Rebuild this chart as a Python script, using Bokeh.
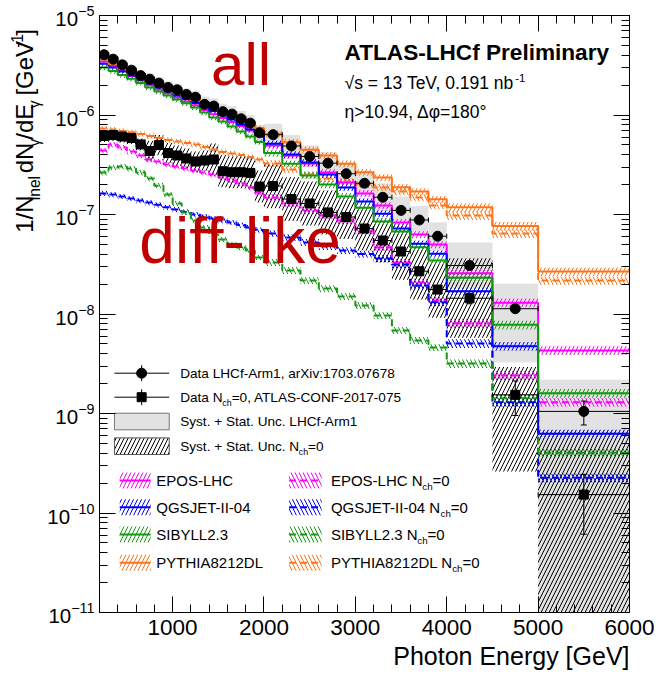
import numpy as np
from bokeh.plotting import figure
from bokeh.layouts import row
from bokeh.models import (Range1d, LogAxis, LinearAxis, FixedTicker, SingleIntervalTicker,
                          CustomJSTickFormatter, Label, Title)
from bokeh.embed import file_html
from bokeh.resources import INLINE

# ------------------------------------------------------------------ data
edges = [200, 300, 400, 500, 600, 700, 800, 900, 1000, 1100, 1200, 1300, 1400, 1500,
         1600, 1700, 1800, 1900, 2000, 2200, 2400, 2600, 2800, 3000, 3200, 3400, 3600,
         3800, 4000, 4500, 5000, 6000]

lhcf_all = [4.03e-6, 3.64e-6, 3.19e-6, 2.82e-6, 2.49e-6, 2.29e-6, 2.09e-6, 1.89e-6, 1.79e-6,
            1.61e-6, 1.51e-6, 1.28e-6, 1.23e-6, 1.08e-6, 1.02e-6, 9.16e-7, 8.28e-7, 6.62e-7,
            6.34e-7, 4.88e-7, 3.83e-7, 3.28e-7, 2.57e-7, 2.06e-7, 1.49e-7, 1.10e-7, 8.81e-8,
            6.05e-8, 3.07e-8, 1.13e-8, 1.05e-9]
lhcf_stat = [0.01, 0.01, 0.01, 0.01, 0.01, 0.01, 0.01, 0.01, 0.01, 0.01, 0.01, 0.01, 0.01,
             0.01, 0.01, 0.01, 0.01, 0.01, 0.01, 0.01, 0.02, 0.02, 0.02, 0.02, 0.02, 0.02,
             0.03, 0.03, 0.04, 0.06, 0.27]
lhcf_sys_up = [0.12, 0.12, 0.12, 0.12, 0.12, 0.15, 0.15, 0.15, 0.15, 0.15, 0.15, 0.20, 0.20,
               0.20, 0.20, 0.20, 0.20, 0.20, 0.29, 0.29, 0.29, 0.29, 0.29, 0.29, 0.38, 0.38,
               0.38, 0.38, 0.70, 0.78, 1.08]
lhcf_sys_down = [0.11, 0.11, 0.11, 0.11, 0.11, 0.13, 0.13, 0.13, 0.13, 0.13, 0.13, 0.17, 0.17,
                 0.17, 0.17, 0.17, 0.17, 0.17, 0.22, 0.22, 0.22, 0.22, 0.22, 0.22, 0.28, 0.28,
                 0.28, 0.28, 0.41, 0.71, 0.999]

nch0 = [6.15e-7, 6.29e-7, 6.08e-7, 5.87e-7, 5.06e-7, 4.35e-7, 4.99e-7, 4.15e-7, 3.92e-7,
        3.66e-7, 3.41e-7, 3.49e-7, 3.57e-7, 2.72e-7, 2.66e-7, 2.66e-7, 2.62e-7, 1.91e-7,
        1.93e-7, 1.43e-7, 1.29e-7, 1.05e-7, 9.44e-8, 7.23e-8, 5.48e-8, 4.25e-8, 2.69e-8,
        1.76e-8, 1.44e-8, 1.54e-9, 1.53e-10]
nch0_stat = [0.02, 0.02, 0.02, 0.02, 0.02, 0.02, 0.02, 0.02, 0.02, 0.02, 0.02, 0.02, 0.02,
             0.02, 0.02, 0.02, 0.02, 0.02, 0.04, 0.04, 0.04, 0.04, 0.04, 0.04, 0.08, 0.08,
             0.08, 0.08, 0.12, 0.38, 0.60]
nch0_sys_up = [0.15, 0.15, 0.15, 0.15, 0.15, 0.26, 0.26, 0.26, 0.26, 0.26, 0.26, 0.26, 0.45,
               0.45, 0.45, 0.45, 0.45, 0.45, 0.66, 0.66, 0.66, 0.66, 0.66, 0.66, 0.66, 0.91,
               0.91, 0.91, 1.52, 0.91, 3.40]
nch0_sys_down = [0.13, 0.13, 0.13, 0.13, 0.13, 0.21, 0.21, 0.21, 0.21, 0.21, 0.21, 0.21, 0.31,
                 0.31, 0.31, 0.31, 0.31, 0.31, 0.40, 0.40, 0.40, 0.40, 0.40, 0.40, 0.40, 0.48,
                 0.48, 0.48, 0.60, 0.83, 0.999]

epos_all = [3.45e-6, 3.11e-6, 2.77e-6, 2.47e-6, 2.22e-6, 2.00e-6, 1.80e-6, 1.64e-6, 1.50e-6,
            1.37e-6, 1.25e-6, 1.12e-6, 1.02e-6, 9.33e-7, 8.51e-7, 7.75e-7, 6.98e-7, 6.29e-7,
            4.94e-7, 3.92e-7, 3.26e-7, 2.64e-7, 2.10e-7, 1.63e-7, 1.23e-7, 8.32e-8, 6.29e-8,
            4.99e-8, 2.57e-8, 1.30e-8, 4.30e-9]
qgsjet_all = [3.27e-6, 3.00e-6, 2.74e-6, 2.49e-6, 2.28e-6, 2.07e-6, 1.89e-6, 1.72e-6, 1.57e-6,
              1.45e-6, 1.32e-6, 1.20e-6, 1.10e-6, 1.00e-6, 9.01e-7, 8.03e-7, 7.15e-7, 6.29e-7,
              5.14e-7, 4.01e-7, 3.33e-7, 2.52e-7, 1.87e-7, 1.35e-7, 1.02e-7, 7.23e-8, 5.08e-8,
              4.03e-8, 1.69e-8, 4.75e-9, 6.25e-10]
sibyll_all = [3.00e-6, 2.77e-6, 2.52e-6, 2.31e-6, 2.10e-6, 1.89e-6, 1.72e-6, 1.57e-6, 1.43e-6,
              1.31e-6, 1.19e-6, 1.06e-6, 9.44e-7, 8.61e-7, 7.66e-7, 6.82e-7, 6.08e-7, 5.35e-7,
              4.15e-7, 3.24e-7, 2.47e-7, 2.00e-7, 1.52e-7, 1.17e-7, 8.51e-8, 6.75e-8, 4.69e-8,
              3.45e-8, 2.31e-8, 7.78e-9, 1.60e-9]
pythia_all = [3.61e-6, 3.26e-6, 2.93e-6, 2.64e-6, 2.38e-6, 2.17e-6, 1.98e-6, 1.80e-6, 1.66e-6,
              1.52e-6, 1.40e-6, 1.29e-6, 1.18e-6, 1.07e-6, 9.89e-7, 9.01e-7, 8.31e-7, 7.40e-7,
              6.47e-7, 5.33e-7, 4.47e-7, 3.92e-7, 3.24e-7, 2.66e-7, 2.35e-7, 1.88e-7, 1.70e-7,
              1.42e-7, 1.18e-7, 7.66e-8, 2.67e-8]

epos_nch0 = [4.40e-7, 5.05e-7, 4.71e-7, 4.30e-7, 3.92e-7, 3.57e-7, 3.41e-7, 3.18e-7, 3.03e-7,
             2.90e-7, 2.77e-7, 2.64e-7, 2.52e-7, 2.35e-7, 2.20e-7, 2.05e-7, 1.87e-7, 1.66e-7,
             1.48e-7, 1.29e-7, 1.10e-7, 9.77e-8, 8.71e-8, 6.90e-8, 4.66e-8, 3.30e-8, 2.07e-8,
             1.37e-8, 8.03e-9, 2.41e-9, 1.30e-9]
qgsjet_nch0 = [1.63e-7, 1.59e-7, 1.52e-7, 1.45e-7, 1.38e-7, 1.32e-7, 1.25e-7, 1.18e-7, 1.12e-7,
               1.06e-7, 1.00e-7, 9.55e-8, 9.12e-8, 8.71e-8, 8.32e-8, 7.84e-8, 7.40e-8, 6.98e-8,
               6.44e-8, 5.87e-8, 5.24e-8, 4.77e-8, 4.35e-8, 4.01e-8, 3.61e-8, 3.14e-8, 1.93e-8,
               1.31e-8, 5.06e-9, 1.30e-9, 2.26e-10]
sibyll_nch0 = [2.64e-7, 2.97e-7, 3.03e-7, 2.90e-7, 2.64e-7, 2.30e-7, 1.95e-7, 1.59e-7, 1.29e-7,
               1.05e-7, 8.71e-8, 7.40e-8, 6.29e-8, 5.61e-8, 4.99e-8, 4.66e-8, 4.35e-8, 3.70e-8,
               3.30e-8, 2.74e-8, 2.17e-8, 1.80e-8, 1.50e-8, 1.22e-8, 9.66e-9, 6.83e-9, 5.42e-9,
               4.61e-9, 3.18e-9, 1.42e-9, 4.03e-10]
pythia_nch0 = [7.32e-7, 7.15e-7, 6.90e-7, 6.71e-7, 6.44e-7, 6.15e-7, 5.87e-7, 5.61e-7, 5.42e-7,
               5.23e-7, 5.05e-7, 4.77e-7, 4.50e-7, 4.25e-7, 4.10e-7, 3.96e-7, 3.78e-7, 3.57e-7,
               3.26e-7, 2.83e-7, 2.52e-7, 2.30e-7, 2.15e-7, 2.00e-7, 1.87e-7, 1.70e-7, 1.48e-7,
               1.23e-7, 9.77e-8, 6.44e-8, 2.17e-8]
mc_stat_rel = [0.06, 0.06, 0.06, 0.06, 0.06, 0.06, 0.06, 0.06, 0.06, 0.06, 0.06, 0.06, 0.06,
               0.06, 0.06, 0.06, 0.06, 0.06, 0.08, 0.08, 0.08, 0.08, 0.08, 0.08, 0.08, 0.08,
               0.08, 0.08, 0.10, 0.10, 0.10]

model_names = ["EPOS-LHC", "QGSJET-II-04", "SIBYLL2.3", "PYTHIA8212DL"]
model_colors = ["#ff00ff", "#0000ff", "#119911", "#ff7418"]
models_all = [epos_all, qgsjet_all, sibyll_all, pythia_all]
models_nch0 = [epos_nch0, qgsjet_nch0, sibyll_nch0, pythia_nch0]

# ------------------------------------------------------------------ geometry helpers
FONT = "Liberation Sans"
YL_W = 44                               # width of the side panel carrying the y title
L, T, W, H = 97, 15, 532, 597          # frame in page pixels
XMIN, XMAX, EMIN, EMAX = 200, 6000, -11, -5


def X(px):
    return XMIN + (px - L) / W * (XMAX - XMIN)


def Y(py):
    return 10 ** (EMAX - (py - T) / H * (EMAX - EMIN))


AW = {' ': 278, '!': 278, '+': 584, ',': 278, '-': 333, '.': 278, '/': 278, ':': 278,
      '=': 584, '>': 584, '[': 278, ']': 278, 'A': 667, 'B': 667, 'C': 722, 'D': 722,
      'E': 667, 'F': 611, 'G': 778, 'H': 722, 'I': 278, 'J': 500, 'K': 667, 'L': 556,
      'M': 833, 'N': 722, 'O': 778, 'P': 667, 'Q': 778, 'R': 722, 'S': 667, 'T': 611,
      'U': 722, 'V': 667, 'W': 944, 'X': 667, 'Y': 667, 'Z': 611, 'a': 556, 'b': 556,
      'c': 500, 'd': 556, 'e': 556, 'f': 278, 'g': 556, 'h': 556, 'i': 222, 'j': 222,
      'k': 500, 'l': 222, 'm': 833, 'n': 556, 'o': 556, 'p': 556, 'q': 556, 'r': 333,
      's': 500, 't': 278, 'u': 556, 'v': 500, 'w': 722, 'x': 500, 'y': 500, 'z': 500,
      'γ': 500, 'η': 556, 'Δ': 668, 'φ': 650, '°': 400, '√': 480}


def tw(s, size):
    return sum(AW.get(ch, 556) for ch in s) * size / 1000.0


p = figure(width=660 - YL_W, height=684, x_range=Range1d(XMIN, XMAX),
           y_range=Range1d(10.0 ** EMIN, 10.0 ** EMAX), y_axis_type="log",
           output_backend="svg", toolbar_location=None,
           min_border_left=L - YL_W, min_border_right=660 - (L + W), min_border_top=T,
           min_border_bottom=684 - (T + H))
p.xgrid.visible = False
p.ygrid.visible = False
p.outline_line_color = "black"
p.outline_line_width = 1
p.background_fill_color = "white"
p.border_fill_color = "white"

yt_major = [10.0 ** e for e in range(EMIN, EMAX + 1)]
yt_minor = [k * 10.0 ** e for e in range(EMIN, EMAX) for k in range(2, 10)]


def style_axis(ax):
    ax.axis_line_color = "black"
    ax.axis_line_width = 1
    ax.major_tick_line_color = "black"
    ax.minor_tick_line_color = "black"
    ax.major_tick_in = 16
    ax.major_tick_out = 0
    ax.minor_tick_in = 8
    ax.minor_tick_out = 0
    ax.major_label_text_font = FONT
    ax.major_label_text_color = "black"


style_axis(p.xaxis[0])
p.xaxis.ticker = SingleIntervalTicker(interval=1000, num_minor_ticks=5)
p.xaxis.major_label_text_font_size = "22.5px"
p.xaxis.major_label_standoff = 7
style_axis(p.yaxis[0])
p.yaxis.ticker = FixedTicker(ticks=yt_major, minor_ticks=yt_minor)
p.yaxis.major_label_text_font_size = "20.5px"
p.yaxis.major_label_standoff = 5

top_ax = LinearAxis(ticker=SingleIntervalTicker(interval=1000, num_minor_ticks=5),
                    formatter=CustomJSTickFormatter(code="return ''"), major_label_standoff=0)
style_axis(top_ax)
p.add_layout(top_ax, "above")
right_ax = LogAxis(ticker=FixedTicker(ticks=yt_major, minor_ticks=yt_minor),
                   formatter=CustomJSTickFormatter(code="return ''"), major_label_standoff=0)
style_axis(right_ax)
p.add_layout(right_ax, "right")

p.add_layout(Title(text="Photon Energy [GeV]", align="right", text_font=FONT,
                   text_font_size="25px", text_font_style="normal", text_color="black",
                   standoff=4, offset=0), "below")

lo_e = edges[:-1]
hi_e = edges[1:]
centers = [(a + b) / 2 for a, b in zip(lo_e, hi_e)]

# ------------------------------------------------------------------ uncertainty bands
p.quad(left=lo_e, right=hi_e,
       bottom=[v * (1 - d) for v, d in zip(lhcf_all, lhcf_sys_down)],
       top=[v * (1 + u) for v, u in zip(lhcf_all, lhcf_sys_up)],
       fill_color="#e2e2e2", line_color=None)
p.quad(left=lo_e, right=hi_e,
       bottom=[v * (1 - d) for v, d in zip(nch0, nch0_sys_down)],
       top=[v * (1 + u) for v, u in zip(nch0, nch0_sys_up)],
       fill_color=None, line_color=None, hatch_pattern="/", hatch_color="black",
       hatch_scale=8, hatch_weight=1)

for vals, col in zip(models_nch0, model_colors):
    p.quad(left=lo_e, right=hi_e,
           bottom=[v * (1 - e) for v, e in zip(vals, mc_stat_rel)],
           top=[v * (1 + e) for v, e in zip(vals, mc_stat_rel)],
           fill_color=None, line_color=None, hatch_pattern="\\", hatch_color=col,
           hatch_scale=8, hatch_weight=1)
for vals, col in zip(models_all, model_colors):
    p.quad(left=lo_e, right=hi_e,
           bottom=[v * (1 - e) for v, e in zip(vals, mc_stat_rel)],
           top=[v * (1 + e) for v, e in zip(vals, mc_stat_rel)],
           fill_color=None, line_color=None, hatch_pattern="/", hatch_color=col,
           hatch_scale=8, hatch_weight=1)

# ------------------------------------------------------------------ model histograms
for vals, col in zip(models_nch0, model_colors):
    p.step(x=edges, y=list(vals) + [vals[-1]], mode="after", line_color=col,
           line_width=2, line_dash="7 4")
for vals, col in zip(models_all, model_colors):
    p.step(x=edges, y=list(vals) + [vals[-1]], mode="after", line_color=col, line_width=2)

# ------------------------------------------------------------------ data points
for vals, stat, marker, msize in [(lhcf_all, lhcf_stat, "circle", 10),
                                   (nch0, nch0_stat, "square", 9)]:
    p.segment(x0=lo_e, y0=vals, x1=hi_e, y1=vals, line_color="black", line_width=1)
    ylo = [v * (1 - s) for v, s in zip(vals, stat)]
    yhi = [v * (1 + s) for v, s in zip(vals, stat)]
    p.segment(x0=centers, y0=ylo, x1=centers, y1=yhi, line_color="black", line_width=1)
    p.scatter(x=lo_e + hi_e, y=list(vals) * 2, marker="dash", angle=np.pi / 2, size=5,
              line_color="black", line_width=1)
    p.scatter(x=centers + centers, y=ylo + yhi, marker="dash", size=6,
              line_color="black", line_width=1)
    p.scatter(x=centers, y=vals, marker=marker, size=msize, fill_color="black",
              line_color="black")


# ------------------------------------------------------------------ text helpers
def label(fig, fx, fy, txt, px, py, size, color="black", style="normal", align="left",
          angle=0.0):
    # (px, py) is the baseline start in page pixels; the anchor sits at the text middle
    if angle == 0.0:
        ax, ay = px, py - 0.35 * size
    else:
        ax, ay = px - 0.35 * size, py
    fig.add_layout(Label(x=fx(ax), y=fy(ay), text=txt, text_font=FONT,
                         text_font_size=f"{size:.1f}px", text_color=color,
                         text_font_style=style, text_align=align,
                         text_baseline="middle", angle=angle))


def lab(txt, px, py, size, **kw):
    label(p, X, Y, txt, px, py, size, **kw)


def rich(fig, fx, fy, segs, px, py, size, vertical=False):
    off = 0.0
    for txt, kind in segs:
        s = size if kind == "n" else size * 0.65
        shift = 0.0 if kind == "n" else (0.28 * size if kind == "sub" else -0.42 * size)
        stripped = txt.lstrip(" ")
        off += tw(txt[:len(txt) - len(stripped)], s)
        if vertical:
            label(fig, fx, fy, stripped, px + shift, py - off, s, angle=np.pi / 2)
        else:
            label(fig, fx, fy, stripped, px + off, py + shift, s)
        off += tw(stripped, s)


# header texts
lab("ATLAS-LHCf Preliminary", 343, 60, 22.6, style="bold")
rich(p, X, Y, [("√s = 13 TeV, 0.191 nb", "n"), ("-1", "sup")], 343, 89, 17.5)
lab("η>10.94, Δφ=180°", 343, 118, 17.5)

lab("all", 209, 85, 60, color="#c00000")
lab("diff-like", 137, 263, 64, color="#c00000")

# ------------------------------------------------------------------ legend
LS = 13.6
rows = [372.7, 396.7, 421.0, 445.7]
for r, marker, ms in [(rows[0], "circle", 10), (rows[1], "square", 9)]:
    p.segment(x0=[X(112)], y0=[Y(r)], x1=[X(167)], y1=[Y(r)], line_color="black")
    p.segment(x0=[X(139.3)], y0=[Y(r - 8)], x1=[X(139.3)], y1=[Y(r + 8)], line_color="black")
    p.scatter(x=[X(139.3)], y=[Y(r)], marker=marker, size=ms, fill_color="black",
              line_color="black")
lab("Data LHCf-Arm1, arXiv:1703.07678", 178, rows[0] + 0.36 * LS, LS)
rich(p, X, Y, [("Data N", "n"), ("ch", "sub"), ("=0, ATLAS-CONF-2017-075", "n")],
     178, rows[1] + 0.36 * LS, LS)
p.quad(left=[X(112)], right=[X(167)], top=[Y(rows[2] - 8.3)], bottom=[Y(rows[2] + 8.3)],
       fill_color="#e2e2e2", line_color="#777777", line_width=1)
lab("Syst. + Stat. Unc. LHCf-Arm1", 178, rows[2] + 0.36 * LS, LS)
p.quad(left=[X(112)], right=[X(167)], top=[Y(rows[3] - 8.3)], bottom=[Y(rows[3] + 8.3)],
       fill_color="white", line_color="#555555", line_width=1, hatch_pattern="/",
       hatch_color="black", hatch_scale=8, hatch_weight=1)
rich(p, X, Y, [("Syst. + Stat. Unc. N", "n"), ("ch", "sub"), ("=0", "n")],
     178, rows[3] + 0.36 * LS, LS)

MS = 15
mrows = [480.0, 506.7, 534.0, 562.3]
for r, name, col in zip(mrows, model_names, model_colors):
    p.quad(left=[X(117.3)], right=[X(148.3)], top=[Y(r - 8)], bottom=[Y(r + 8)],
           fill_color=None, line_color=None, hatch_pattern="/", hatch_color=col,
           hatch_scale=8, hatch_weight=1)
    p.segment(x0=[X(117.3)], y0=[Y(r)], x1=[X(148.3)], y1=[Y(r)], line_color=col,
              line_width=2)
    lab(name, 154, r + 0.36 * MS, MS)
    p.quad(left=[X(287.3)], right=[X(320)], top=[Y(r - 8)], bottom=[Y(r + 8)],
           fill_color=None, line_color=None, hatch_pattern="\\", hatch_color=col,
           hatch_scale=8, hatch_weight=1)
    p.segment(x0=[X(287.3)], y0=[Y(r)], x1=[X(320)], y1=[Y(r)], line_color=col,
              line_width=2, line_dash="7 4")
    rich(p, X, Y, [(name + " N", "n"), ("ch", "sub"), ("=0", "n")], 329.3, r + 0.36 * MS, MS)

# ------------------------------------------------------------------ y-axis title panel
fy = figure(width=YL_W, height=684, x_range=Range1d(0, YL_W), y_range=Range1d(684, 0),
            output_backend="svg", toolbar_location=None, x_axis_location=None,
            y_axis_location=None, min_border=0, min_border_left=0, min_border_right=0,
            min_border_top=0, min_border_bottom=0)
fy.outline_line_color = None
fy.xgrid.visible = False
fy.ygrid.visible = False
fy.background_fill_color = "white"
fy.border_fill_color = "white"


def ident(v):
    return v


rich(fy, ident, ident,
     [("1/N", "n"), ("inel", "sub"), (" dN", "n"), ("γ", "sub"), ("/dE", "n"),
      ("γ", "sub"), (" [GeV", "n"), ("-1", "sup"), ("]", "n")], 32.5, 249, 24, vertical=True)

layout = row(fy, p, spacing=0)
open("out.html", "w").write(file_html(layout, INLINE))
